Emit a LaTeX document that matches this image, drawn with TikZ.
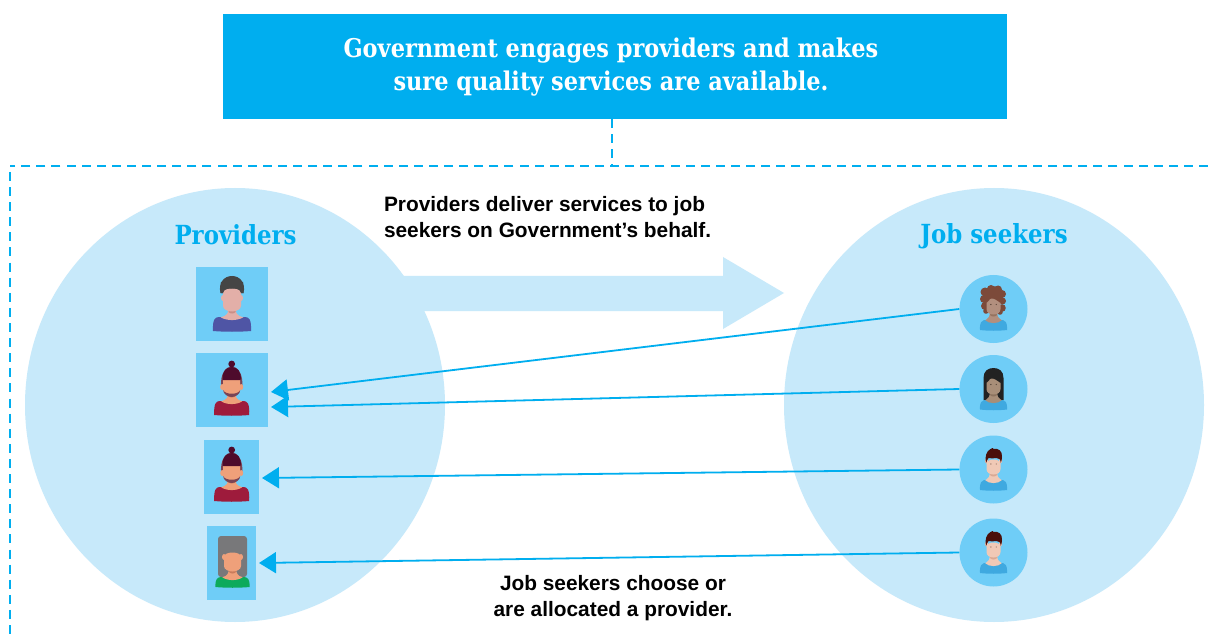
\documentclass[tikz,border=0pt]{standalone}
\usepackage{fontspec}
\setmainfont{Liberation Sans}
\newfontfamily\slab[FakeStretch=0.87]{DejaVu Serif}
\usetikzlibrary{arrows.meta,shapes.geometric}
\definecolor{cyanmain}{HTML}{00AEEF}
\definecolor{pale}{HTML}{C7E9FA}
\definecolor{midblue}{HTML}{6FCDF7}
\definecolor{shirtblue}{HTML}{3FA9E0}
\definecolor{purple1}{HTML}{4F55A5}
\definecolor{skinA}{HTML}{E3AFA8}
\definecolor{shadeA}{HTML}{C98F88}
\definecolor{hairA}{HTML}{454545}
\definecolor{skinB}{HTML}{EFA07A}
\definecolor{shadeB}{HTML}{C97C5C}
\definecolor{hairB}{HTML}{4E0B2C}
\definecolor{hairBb}{HTML}{7A4455}
\definecolor{wine}{HTML}{9E1B3C}
\definecolor{hairC}{HTML}{78787A}
\definecolor{greenC}{HTML}{0DAA5B}
\definecolor{skinD}{HTML}{B28F7E}
\definecolor{shadeD}{HTML}{96735F}
\definecolor{hairD}{HTML}{7C4A3A}
\definecolor{skinE}{HTML}{A88E78}
\definecolor{shadeE}{HTML}{8C735F}
\definecolor{hairE}{HTML}{222222}
\definecolor{skinF}{HTML}{F0C9B6}
\definecolor{shadeF}{HTML}{D9A994}
\definecolor{hairF}{HTML}{4A0F0A}
\tikzset{
  x=1pt,y=-1pt,
  bigcircle/.style={ellipse,fill=pale,minimum width=420pt,minimum height=434pt,inner sep=0pt},
  tile/.style={rectangle,fill=midblue,inner sep=0pt,minimum height=74pt},
  round tile/.style={circle,fill=midblue,minimum size=68pt,inner sep=0pt},
  heading/.style={text=cyanmain,font=\fontsize{26.3}{30}\selectfont\slab\bfseries},
  caption/.style={text=black,font=\fontsize{20.85}{26}\selectfont\bfseries},
  link/.style={cyanmain,line width=1.8pt,-{Triangle[length=17pt,width=21pt]}},
  dashline/.style={cyanmain,line width=2.8pt,dash pattern=on 9pt off 6.1pt},
}
% x, y(shoulder top), half width, body height, shirt, skin, shade, face half width, face height
\newcommand{\bust}[9]{%
  \fill[#5] (#1-#3,#2+#4) .. controls (#1-#3-.5,#2+2) and (#1-#3+2,#2+.5) .. (#1-#3+#3*.3,#2) -- (#1+#3-#3*.3,#2)
     .. controls (#1+#3-2,#2+.5) and (#1+#3+.5,#2+2) .. (#1+#3,#2+#4)
     .. controls (#1+#3*.4,#2+#4+1) and (#1-#3*.4,#2+#4+1) .. cycle;
  \fill[#6] (#1-#3*.6,#2+.3) .. controls (#1-5,#2-1) and (#1-3.5,#2-4) .. (#1-3.5,#2-9) -- (#1+3.5,#2-9)
     .. controls (#1+3.5,#2-4) and (#1+5,#2-1) .. (#1+#3*.6,#2+.3)
     .. controls (#1+5,#2+4) and (#1-5,#2+4) .. cycle;
  \fill[#7] (#1-3.5,#2-10) -- (#1+3.5,#2-10) -- (#1+3.5,#2-5) .. controls (#1+2,#2-3) and (#1-2,#2-3) .. (#1-3.5,#2-5) -- cycle;
  \fill[#6] (#1-#8,#2-#9) .. controls (#1-#8,#2-#9-6) and (#1+#8,#2-#9-6) .. (#1+#8,#2-#9)
     -- (#1+#8,#2-11) .. controls (#1+#8,#2-7.5) and (#1+4,#2-5.5) .. (#1,#2-5.5)
     .. controls (#1-4,#2-5.5) and (#1-#8,#2-7.5) .. (#1-#8,#2-11) -- cycle;
}
% the man with the bun: x, y of bun centre
\newcommand{\bunman}[2]{%
  \fill[hairBb] (#1-10.5,#2+24) .. controls (#1-12,#2+10) and (#1-6,#2+2.5) .. (#1,#2+2.5)
     .. controls (#1+6,#2+2.5) and (#1+12,#2+10) .. (#1+10.5,#2+24) -- cycle;
  \fill[skinB] (#1-9.5,#2+23) circle[x radius=2,y radius=3];
  \fill[skinB] (#1+9.5,#2+23) circle[x radius=2,y radius=3];
  \bust{#1}{#2+37}{17.5}{14}{wine}{skinB}{shadeB}{8.5}{22}
  \fill[hairBb] (#1-8.5,#2+26) .. controls (#1-7,#2+31) and (#1+7,#2+31) .. (#1+8.5,#2+26)
     .. controls (#1+8.5,#2+30) and (#1+4,#2+33) .. (#1,#2+33)
     .. controls (#1-4,#2+33) and (#1-8.5,#2+30) .. cycle;
  \fill[hairB] (#1-9,#2+16) .. controls (#1-10,#2+7) and (#1-5,#2+3) .. (#1,#2+3)
     .. controls (#1+5,#2+3) and (#1+10,#2+7) .. (#1+9,#2+16)
     -- cycle;
  \fill[hairB] (#1,#2) circle[radius=3.4];
}
% the man with the short hair: x, y of hair top
\newcommand{\shortman}[2]{%
  \bust{#1}{#2+32}{13.5}{10}{shirtblue}{skinF}{shadeF}{7}{16}
  \fill[skinF] (#1-7,#2+13) circle[x radius=1.5,y radius=2.5];
  \fill[skinF] (#1+7,#2+13) circle[x radius=1.5,y radius=2.5];
  \fill[hairF] (#1-7.5,#2+15) .. controls (#1-9,#2+9) and (#1-7,#2+3) .. (#1-3,#2+1)
     -- (#1-1,#2) -- (#1,#2+1) .. controls (#1+5,#2) and (#1+9,#2+3) .. (#1+8.5,#2+9)
     .. controls (#1+8.5,#2+11) and (#1+8,#2+13) .. (#1+7.3,#2+15)
     .. controls (#1+7,#2+11) and (#1+5.5,#2+10) .. (#1+3,#2+10)
     .. controls (#1,#2+11) and (#1-3,#2+10) .. (#1-5,#2+10)
     .. controls (#1-6,#2+11) and (#1-6.5,#2+13) .. cycle;
  \fill[shadeF!70!black] (#1-2.7,#2+16) circle[radius=.7] (#1+2.7,#2+16) circle[radius=.7];
}
\begin{document}
\begin{tikzpicture}
\useasboundingbox (0,0) rectangle (1208,639);
\fill[white] (0,0) rectangle (1208,639);

% large circles and the band arrow
\node[bigcircle] (provcircle) at (235,405) {};
\node[bigcircle] (seekcircle) at (994,405) {};
\fill[pale] (385,276) -- (723,276) -- (723,257) -- (784,293) -- (723,329) -- (723,311) -- (385,311) -- cycle;

% banner
\node[rectangle,fill=cyanmain,minimum width=784pt,minimum height=105pt,inner sep=0pt] (banner) at (615,66.5) {};
\node[align=center,text=white,font=\fontsize{25.8}{33}\selectfont\slab\bfseries] (bannertext) at (611,67.5) {Government engages providers and makes\\sure quality services are available.};

% dashed frame
\coordinate (fa) at (1208,166);
\coordinate (fb) at (10,166);
\coordinate (fbb) at (10,172);
\coordinate (fc) at (10,639);
\coordinate (fj) at (612,166);
\draw[dashline] (fa) -- (fb);
\draw[dashline] (fbb) -- (fc);
\draw[dashline] (banner.south -| fj) -- (fj);

% labels
\node[heading] (provlabel) at (235.5,235) {Providers};
\node[heading] (seeklabel) at (994,236.5) {Job seekers};
\node[caption,align=left,anchor=west] (delivercap) at (380.5,217) {Providers deliver services to job\\seekers on Government’s behalf.};
\node[caption,align=center] (choosecap) at (613,598) {Job seekers choose or\\are allocated a provider.};

% provider tiles
\node[tile,minimum width=72pt] (p1) at (232,304) {};
\node[tile,minimum width=72pt] (p2) at (232,390) {};
\node[tile,minimum width=55pt] (p3) at (231.5,477) {};
\node[tile,minimum width=49pt] (p4) at (231.5,563) {};

% provider 1
\fill[hairA] (220.5,293) .. controls (218,283) and (224,276) .. (232,276) .. controls (240,276) and (246,283) .. (243.5,293) -- cycle;
\fill[skinA] (223,298) circle[x radius=2,y radius=3] (241,298) circle[x radius=2,y radius=3];
\bust{232}{317}{19}{14}{purple1}{skinA}{shadeA}{9}{24}
\fill[hairA] (223,293) .. controls (224,288) and (228,288) .. (232,288.5) .. controls (236,288) and (240,288) .. (241,293) -- (243.5,293) -- (243,282) -- (221,282) -- (220.5,293) -- cycle;

% provider 2 and 3
\bunman{231.7}{364}
\bunman{231.7}{450}

% provider 4
\fill[hairC,rounded corners=3pt] (218,536) rectangle (247,577);
\bust{232.5}{577}{17}{10}{greenC}{skinB}{shadeB}{8.5}{20}
\fill[skinB] (224,557) circle[x radius=2,y radius=3] (241,557) circle[x radius=2,y radius=3];
\fill[hairC] (223,553) .. controls (226,552) and (228,550) .. (229,546) .. controls (232,549) and (238,551) .. (242,553) -- (240,544) -- (226,544) -- cycle;

% seeker tiles
\node[round tile] (s1) at (993.5,309) {};
\node[round tile] (s2) at (993.5,389) {};
\node[round tile] (s3) at (993.5,469.5) {};
\node[round tile] (s4) at (993.5,552.5) {};

% seeker 1: curly hair
\fill[hairD] (993,296) circle[radius=10];
\foreach \cx/\cy/\cr in {985/292/4.5,991/289/4,998/289.5/4,1002/294/4,984/299/4,1002.5/301/3.5,985/306/4,1002/308/3.8,986/311/2.8,1000/312/2.8}{
  \fill[hairD] (\cx,\cy) circle[radius=\cr];}
\fill[hairD] (986,296) rectangle (1000,312);
\bust{993.5}{320}{13.5}{10}{shirtblue}{skinD}{shadeD}{7}{17}
\fill[hairD] (986.5,303) .. controls (989,301) and (990,299) .. (991,297) .. controls (994,299) and (997,300) .. (1000.5,303) -- (1001,293) -- (986,293) -- cycle;
\fill[shadeD!60!black] (990.8,304.5) circle[radius=.7] (996.2,304.5) circle[radius=.7];

% seeker 2: long black hair
\fill[hairE] (983.5,400) -- (983.5,378) .. controls (983.5,371) and (988,368) .. (993.5,368) .. controls (999,368) and (1003.5,371) .. (1003.5,378) -- (1003.5,400) -- cycle;
\bust{993.5}{400}{13.5}{9.5}{shirtblue}{skinE}{shadeE}{7}{17}
\fill[hairE] (986.5,383) .. controls (989,381) and (990,379) .. (991,377) .. controls (994,379) and (997,380) .. (1000.5,383) -- (1001,374) -- (986,374) -- cycle;
\fill[shadeE!60!black] (990.8,384.5) circle[radius=.7] (996.2,384.5) circle[radius=.7];

% seeker 3 and 4
\shortman{993.5}{448}
\shortman{993.5}{531}

% connectors
\coordinate (t1) at (271,392);
\coordinate (t2) at (271,407);
\coordinate (t3) at (262,478);
\coordinate (t4) at (259,563);
\draw[link] (s1.west) -- (t1);
\draw[link] (s2.west) -- (t2);
\draw[link] (s3.west) -- (t3);
\draw[link] (s4.west) -- (t4);
\end{tikzpicture}
\end{document}
